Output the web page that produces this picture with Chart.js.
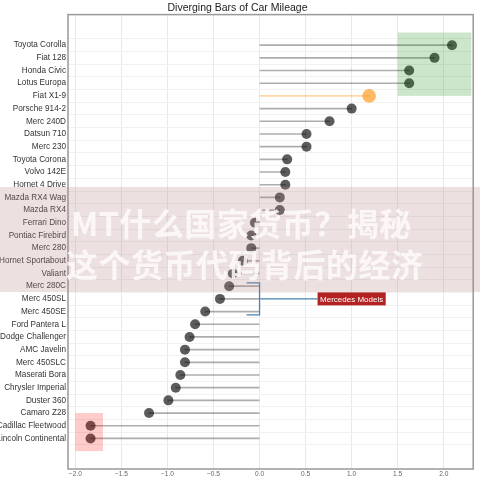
<!DOCTYPE html>
<html>
<head>
<meta charset="utf-8">
<script src="https://cdn.jsdelivr.net/npm/chart.js@4"></script>
<style>
  html, body { margin: 0; padding: 0; background: #fff; }
  #wrap { position: relative; width: 480px; height: 480px; overflow: hidden; }
  #band {
    position: absolute; left: 0; top: 187px; width: 480px; height: 105px;
    background: rgba(179, 131, 131, 0.25);
  }
  .wm {
    position: absolute; white-space: nowrap; color: rgba(255, 252, 252, 0.86);
    font-family: "Noto Sans CJK SC", sans-serif; font-weight: bold; font-size: 32px; line-height: 40px;
    letter-spacing: 0.5px;
  }
</style>
</head>
<body>
<div id="wrap">
  <canvas id="lollipop" width="480" height="480"></canvas>
  <div id="band"></div>
  <div class="wm" style="left:71px; top:202px;">MT什么国家货币？揭秘</div>
  <div class="wm" style="left:66px; top:243px;">这个货币代码背后的经济</div>
</div>
<script>
// bottom to top
const cars = [
  'Lincoln Continental', 'Cadillac Fleetwood', 'Camaro Z28', 'Duster 360', 'Chrysler Imperial',
  'Maserati Bora', 'Merc 450SLC', 'AMC Javelin', 'Dodge Challenger', 'Ford Pantera L',
  'Merc 450SE', 'Merc 450SL', 'Merc 280C', 'Valiant', 'Hornet Sportabout',
  'Merc 280', 'Pontiac Firebird', 'Ferrari Dino', 'Mazda RX4', 'Mazda RX4 Wag',
  'Hornet 4 Drive', 'Volvo 142E', 'Toyota Corona', 'Merc 230', 'Datsun 710',
  'Merc 240D', 'Porsche 914-2', 'Fiat X1-9', 'Lotus Europa', 'Honda Civic',
  'Fiat 128', 'Toyota Corolla'
];
const mpgZ = [
  -1.835, -1.835, -1.20, -0.99, -0.91,
  -0.86, -0.81, -0.81, -0.76, -0.70,
  -0.59, -0.43, -0.33, -0.29, -0.18,
  -0.09, -0.09, -0.05, 0.22, 0.22,
  0.28, 0.28, 0.30, 0.51, 0.51,
  0.76, 1.00, 1.19, 1.625, 1.625,
  1.90, 2.09
];
const xTicks = [-2.0, -1.5, -1.0, -0.5, 0.0, 0.5, 1.0, 1.5, 2.0];
const highlightCar = 'Fiat X1-9';
const annotateCar = 'Merc 450SL';
const annotateText = 'Mercedes Models';
const titleText = 'Diverging Bars of Car Mileage';

const redPatch = { x: -2.0, y: -1, w: 0.3, h: 3, color: 'rgba(255,0,0,0.2)' };
const greenPatch = { x: 1.5, y: 27, w: 0.8, h: 5, color: 'rgba(0,128,0,0.2)' };

const points = cars.map((car, i) => ({ x: mpgZ[i], y: i }));
const isHighlight = (i) => cars[i] === highlightCar;

function fillPatch(ctx, xs, ys, p) {
  const left = xs.getPixelForValue(p.x);
  const right = xs.getPixelForValue(p.x + p.w);
  const top = ys.getPixelForValue(p.y + p.h);
  const bottom = ys.getPixelForValue(p.y);
  ctx.fillStyle = p.color;
  ctx.fillRect(left, top, right - left, bottom - top);
}

const decorations = {
  id: 'decorations',
  afterDatasetsDraw(chart) {
    const { ctx, scales } = chart;
    ctx.save();
    fillPatch(ctx, scales.x, scales.y, redPatch);
    fillPatch(ctx, scales.x, scales.y, greenPatch);
    ctx.restore();
  },
  afterDraw(chart) {
    const { ctx, chartArea, scales } = chart;
    ctx.save();
    // frame all round
    ctx.strokeStyle = '#999';
    ctx.lineWidth = 1.5;
    ctx.strokeRect(chartArea.left, chartArea.top, chartArea.right - chartArea.left, chartArea.bottom - chartArea.top);

    // annotation: bracket at (0, Merc 450SL), label at x = 1.0
    const px = scales.x.getPixelForValue(0);
    const py = scales.y.getPixelForValue(cars.indexOf(annotateCar));
    const tx = scales.x.getPixelForValue(1.0);
    ctx.font = '8px "Liberation Sans", Arial, sans-serif';
    const tw = ctx.measureText(annotateText).width;
    const boxW = tw + 5;
    const boxH = 13;

    ctx.strokeStyle = '#4682b4';
    ctx.lineWidth = 1.3;
    ctx.beginPath();
    ctx.moveTo(tx - boxW / 2, py);
    ctx.lineTo(px, py);
    ctx.moveTo(px - 13, py - 16);
    ctx.lineTo(px, py - 16);
    ctx.lineTo(px, py + 16);
    ctx.lineTo(px - 13, py + 16);
    ctx.stroke();

    ctx.fillStyle = '#b22222';
    ctx.fillRect(tx - boxW / 2, py - boxH / 2, boxW, boxH);
    ctx.fillStyle = '#fff';
    ctx.textAlign = 'center';
    ctx.textBaseline = 'middle';
    ctx.fillText(annotateText, tx, py + 0.5);
    ctx.restore();
  }
};

new Chart(document.getElementById('lollipop'), {
  type: 'scatter',
  data: {
    datasets: [
      {
        type: 'bar',
        indexAxis: 'y',
        data: points,
        barThickness: 1,
        backgroundColor: cars.map((c, i) => isHighlight(i) ? 'rgba(255,140,0,0.35)' : 'rgba(0,0,0,0.32)'),
        borderWidth: 0,
        order: 2
      },
      {
        type: 'scatter',
        data: points,
        pointRadius: cars.map((c, i) => isHighlight(i) ? 6.8 : 5),
        pointBackgroundColor: cars.map((c, i) => isHighlight(i) ? 'rgba(255,140,0,0.6)' : 'rgba(0,0,0,0.64)'),
        pointBorderWidth: 0,
        order: 1
      }
    ]
  },
  options: {
    responsive: false,
    animation: false,
    events: [],
    layout: { padding: { left: 0, right: 5, top: 0, bottom: 0 } },
    plugins: {
      legend: { display: false },
      tooltip: { enabled: false },
      title: {
        display: true,
        text: titleText,
        color: '#222',
        font: { family: '"Liberation Sans", Arial, sans-serif', size: 10.5, weight: 'normal', lineHeight: 1.2 },
        padding: { top: 2, bottom: 0 }
      }
    },
    scales: {
      x: {
        type: 'linear',
        min: -2.08,
        max: 2.32,
        afterBuildTicks: (scale) => { scale.ticks = xTicks.map((v) => ({ value: v })); },
        afterFit: (scale) => { scale.height = 11; },
        ticks: {
          color: '#666',
          padding: 1,
          font: { family: '"Liberation Sans", Arial, sans-serif', size: 6.6 },
          callback: (v) => (v < 0 ? '\u2212' : '') + Math.abs(v).toFixed(1)
        },
        grid: { color: '#e9e9e9', lineWidth: 1, drawTicks: false },
        border: { display: false }
      },
      y: {
        type: 'linear',
        min: -1.85,
        max: 32.85,
        afterBuildTicks: (scale) => { scale.ticks = cars.map((c, i) => ({ value: i })); },
        afterFit: (scale) => { scale.width = 68; },
        ticks: {
          color: '#333',
          padding: 2,
          font: { family: '"Liberation Sans", Arial, sans-serif', size: 8.2 },
          callback: (v) => cars[v] ?? ''
        },
        grid: { color: '#f1f1f1', lineWidth: 1, drawTicks: false },
        border: { display: false }
      }
    }
  },
  plugins: [decorations]
});
</script>
</body>
</html>
